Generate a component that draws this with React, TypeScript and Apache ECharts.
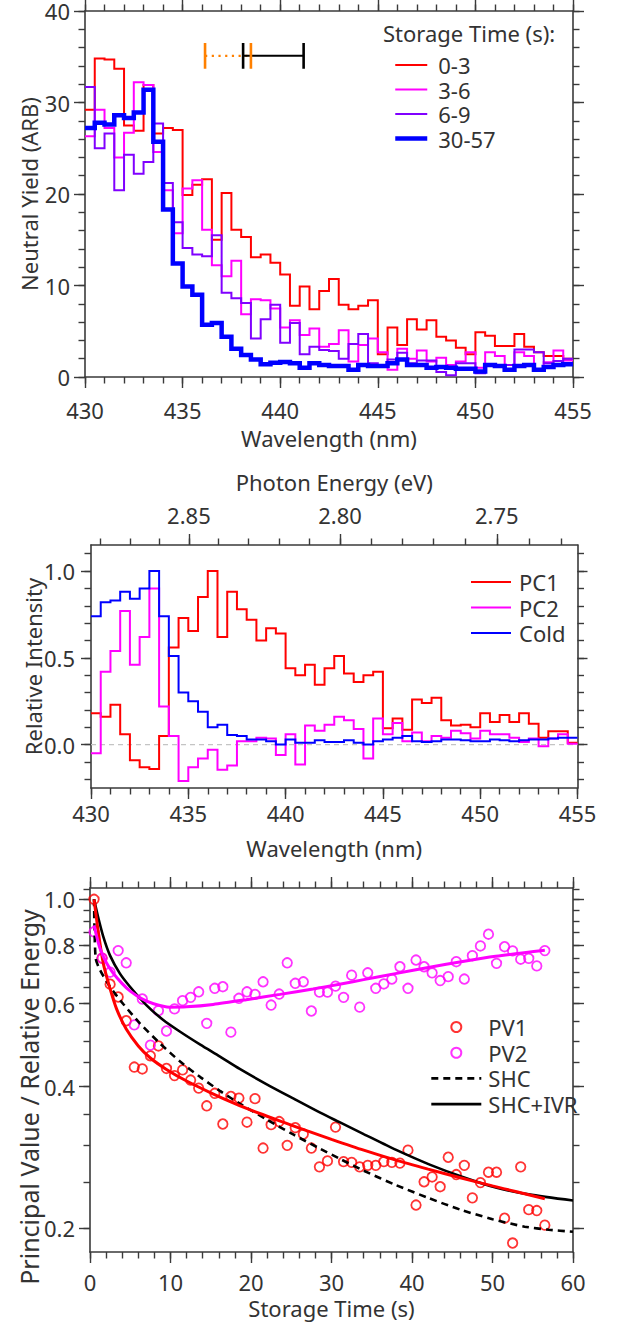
import React, { useEffect, useRef } from 'react';
import * as echarts from 'echarts';

const W = 618;
const H = 1327;
const FONT = 'Noto Sans';
const TXT = '#333333';
const AXC = '#3a3a3a';
const RED = '#ff0000';
const MAG = '#ff00ff';
const PUR = '#8000ff';
const BLUE = '#0000ff';
const ORANGE = '#ff8000';
const HC = 1239.84;

// ---------- Panel A: neutral yield histograms (0.5 nm bins from 430 nm) ----------
const binStart = 430;
const binWidth = 0.5;
const yield0to3 = [29.2, 34.8, 34.7, 33.7, 27.5, 26.9, 31.9, 26.6, 27.2, 27.0,
  19.9, 21.0, 21.6, 15.0, 20.1, 16.1, 15.3, 13.1, 13.4, 12.5,
  11.2, 7.8, 9.9, 7.4, 9.4, 10.7, 7.9, 7.4, 7.8, 8.4,
  2.5, 5.4, 3.5, 6.3, 5.2, 6.2, 4.4, 4.0, 3.2, 2.5,
  4.9, 4.5, 3.4, 3.4, 4.7, 3.3, 2.7, 2.3, 2.3, 2.0];
const yield3to6 = [26.3, 29.2, 27.2, 24.0, 26.7, 32.2, 31.9, 24.6, 20.4, 15.7,
  20.6, 21.5, 16.1, 12.2, 11.0, 12.7, 6.85, 8.5, 8.4, 7.5,
  5.4, 6.2, 4.6, 5.3, 3.3, 3.6, 5.1, 1.7, 3.5, 4.2,
  2.7, 0.8, 3.1, 2.0, 2.9, 1.7, 2.1, 1.3, 1.7, 2.7,
  1.0, 2.7, 2.3, 1.3, 2.7, 2.3, 0.8, 1.6, 2.9, 1.8];
const yield6to9 = [31.7, 25.0, 26.6, 20.4, 24.3, 22.2, 23.5, 27.7, 21.2, 16.9,
  14.1, 13.4, 13.2, 15.5, 9.2, 8.6, 8.1, 4.2, 6.3, 7.9,
  3.75, 5.9, 2.5, 3.3, 2.95, 2.85, 2.0, 3.6, 4.7, 1.5,
  1.3, 1.9, 2.65, 1.5, 1.8, 1.8, 0.55, 0.2, 1.5, 1.5,
  0.4, 1.3, 1.3, 1.3, 3.0, 3.0, 2.7, 1.5, 1.75, 2.0];
const yield30to57 = [27.2, 27.8, 27.6, 28.6, 28.3, 28.9, 31.4, 25.7, 18.3, 12.4,
  9.9, 9.0, 5.7, 5.9, 4.4, 3.1, 2.4, 1.9, 1.4, 1.55,
  1.65, 1.5, 1.0, 1.5, 1.3, 1.2, 1.2, 0.8, 1.3, 1.2,
  1.2, 1.5, 1.9, 1.3, 1.3, 1.0, 1.1, 1.0, 0.9, 0.9,
  0.6, 1.3, 1.2, 0.8, 1.2, 1.3, 0.8, 1.1, 1.3, 1.4];
const errBarY = 35.1;
const errBarHalf = 1.4;
const errOrange = [436.15, 438.5];
const errBlack = [438.1, 441.2];

// ---------- Panel B: principal components ----------
const pc1 = [0.18, 0.16, 0.23, 0.06, -0.09, -0.13, -0.14, 0.05, 0.56, 0.73,
  0.655, 0.85, 1.0, 0.62, 0.88, 0.78, 0.72, 0.60, 0.67, 0.64,
  0.44, 0.40, 0.46, 0.345, 0.44, 0.51, 0.41, 0.36, 0.40, 0.42,
  0.094, 0.15, 0.086, 0.26, 0.24, 0.27, 0.14, 0.11, 0.115, 0.10,
  0.18, 0.13, 0.17, 0.13, 0.18, 0.12, 0.04, 0.077, 0.077, 0.01];
const pc2 = [-0.05, 0.42, 0.54, 0.77, 0.46, 0.62, 0.9, 0.22, 0.05, -0.21,
  -0.13, -0.08, -0.03, -0.145, -0.12, 0.02, 0.02, 0.04, 0.035, -0.06,
  0.06, -0.115, 0.11, 0.08, 0.115, 0.16, 0.14, 0.09, -0.08, 0.15,
  0.06, 0.125, 0.02, 0.07, 0.02, 0.05, 0.04, 0.08, 0.065, 0.035,
  0.08, 0.06, 0.06, 0.04, 0.015, 0.035, -0.01, 0.035, 0.06, 0.005];
const cold = [0.74, 0.82, 0.83, 0.88, 0.84, 0.90, 1.0, 0.74, 0.51, 0.30,
  0.25, 0.19, 0.10, 0.115, 0.056, 0.05, 0.03, 0.03, 0.02, 0.0,
  0.03, 0.01, 0.01, 0.025, 0.015, 0.015, 0.025, 0.01, 0.0, 0.02,
  0.03, 0.04, 0.05, 0.02, 0.015, 0.02, 0.03, 0.03, 0.025, 0.02,
  0.02, 0.03, 0.025, 0.02, 0.025, 0.03, 0.03, 0.035, 0.04, 0.04];
const energyMajor = [2.85, 2.80, 2.75];
const energyMinor = [2.88, 2.87, 2.86, 2.85, 2.84, 2.83, 2.82, 2.81, 2.80, 2.79, 2.78, 2.77, 2.76, 2.75, 2.74, 2.73];

// ---------- Panel C: decay vs storage time ----------
const storageTime = [0.5, 1.5, 2.5, 3.5, 4.5, 5.5, 6.5, 7.5, 8.5, 9.5,
  10.5, 11.5, 12.5, 13.5, 14.5, 15.5, 16.5, 17.5, 18.5, 19.5,
  20.5, 21.5, 22.5, 23.5, 24.5, 25.5, 26.5, 27.5, 28.5, 29.5,
  30.5, 31.5, 32.5, 33.5, 34.5, 35.5, 36.5, 37.5, 38.5, 39.5,
  40.5, 41.5, 42.5, 43.5, 44.5, 45.5, 46.5, 47.5, 48.5, 49.5,
  50.5, 51.5, 52.5, 53.5, 54.5, 55.5, 56.5];
const pv1 = [1.0, 0.75, 0.66, 0.62, 0.552, 0.44, 0.436, 0.465, 0.488, 0.437,
  0.422, 0.434, 0.413, 0.397, 0.364, 0.387, 0.333, 0.381, 0.378, 0.336,
  0.377, 0.296, 0.332, 0.337, 0.30, 0.327, 0.317, 0.296, 0.27, 0.278,
  0.328, 0.277, 0.276, 0.27, 0.272, 0.272, 0.277, 0.276, 0.275, 0.293,
  0.224, 0.251, 0.257, 0.245, 0.283, 0.26, 0.272, 0.232, 0.25, 0.263,
  0.263, 0.21, 0.186, 0.27, 0.219, 0.218, 0.203];
const pv2 = [0.853, 0.75, 0.70, 0.778, 0.733, 0.541, 0.614, 0.49, 0.58, 0.525,
  0.585, 0.609, 0.619, 0.636, 0.545, 0.647, 0.652, 0.522, 0.616, 0.636,
  0.628, 0.668, 0.596, 0.629, 0.733, 0.663, 0.668, 0.579, 0.635, 0.635,
  0.654, 0.619, 0.69, 0.59, 0.698, 0.647, 0.661, 0.677, 0.719, 0.647,
  0.743, 0.719, 0.698, 0.672, 0.685, 0.737, 0.677, 0.759, 0.796, 0.843,
  0.731, 0.793, 0.777, 0.746, 0.749, 0.722, 0.778];
const pv1FitT = [0.5, 1.0, 1.65, 2.5, 3.3, 4.5, 6, 7.5, 9.5, 12, 15, 18, 21, 24, 27, 30, 34, 38, 42, 46, 50, 53, 56.5];
const pv1FitV = [1.0, 0.86, 0.731, 0.645, 0.585, 0.53, 0.488, 0.46, 0.435, 0.411, 0.388, 0.368, 0.351, 0.336, 0.322, 0.309, 0.293, 0.279, 0.267, 0.256, 0.246, 0.239, 0.231];
const pv2FitT = [0.5, 1.2, 2.0, 2.9, 4.0, 5.0, 6.4, 7.9, 9.9, 12, 15.3, 19.4, 23.6, 27.7, 31, 34, 38.1, 42.2, 46.3, 50.4, 56.5];
const pv2FitV = [0.88, 0.79, 0.735, 0.696, 0.662, 0.638, 0.615, 0.6, 0.59, 0.591, 0.598, 0.612, 0.628, 0.645, 0.66, 0.675, 0.696, 0.717, 0.738, 0.757, 0.779];
const shcT = [0.5, 0.7, 1.24, 2.48, 4.1, 6.2, 8.7, 11.2, 13.7, 16.2, 18.6, 22, 25.3, 28.6, 31, 34, 38, 42, 46, 50, 54, 57, 60];
const shcV = [1.0, 0.75, 0.708, 0.652, 0.6, 0.545, 0.494, 0.452, 0.419, 0.391, 0.368, 0.34, 0.316, 0.295, 0.281, 0.265, 0.247, 0.232, 0.219, 0.209, 0.2015, 0.1985, 0.1965];
const ivrT = [0.5, 1.0, 1.65, 2.48, 3.7, 4.97, 7, 9.1, 11.2, 13.7, 16.15, 18.6, 21.9, 25.3, 28.6, 31, 34, 38.1, 42.2, 46.3, 50.4, 54.5, 60];
const ivrV = [1.0, 0.918, 0.833, 0.76, 0.696, 0.652, 0.596, 0.554, 0.523, 0.491, 0.463, 0.436, 0.405, 0.377, 0.352, 0.336, 0.317, 0.293, 0.273, 0.257, 0.244, 0.236, 0.229];
const logYMin = 0.178;
const logYMax = 1.057;
const logYLabels = [0.2, 0.4, 0.6, 0.8, 1.0];

function seq(a: number, b: number, step: number): number[] {
  const out: number[] = [];
  const n = Math.round((b - a) / step);
  for (let i = 0; i <= n; i++) out.push(+(a + i * step).toFixed(6));
  return out;
}

function steps(vals: number[], start: number, w: number): number[][] {
  const pts: number[][] = [];
  vals.forEach((v, i) => {
    pts.push([start + i * w, v], [start + (i + 1) * w, v]);
  });
  return pts;
}

const font = { color: TXT, fontSize: 22, fontFamily: FONT, lineHeight: 22 };

type Lab = { fmt: (v: number) => string; margin: number } | null;
type Nm = { text: string; gap: number } | null;

function axis(grid: number, pos: string, min: number, max: number, ticks: number[], len: number,
  line: boolean, label: Lab, name: Nm) {
  const a: any = {
    type: 'value', gridIndex: grid, position: pos, min, max,
    axisLine: { show: line, onZero: false, lineStyle: { color: AXC, width: 1.6 } },
    axisTick: { show: true, inside: false, length: len, customValues: ticks, lineStyle: { color: AXC, width: 1.4 } },
    axisLabel: label ? { show: true, customValues: ticks, formatter: label.fmt, margin: label.margin, ...font } : { show: false },
    splitLine: { show: false },
    splitArea: { show: false },
    axisPointer: { show: false },
    nameMoveOverlap: false,
  };
  if (name) {
    a.name = name.text;
    a.nameLocation = 'middle';
    a.nameGap = name.gap;
    a.nameTextStyle = { ...font };
  }
  return a;
}

function buildOption() {
  const xAxis: any[] = [];
  const yAxis: any[] = [];
  const num = (v: number) => String(Math.round(v));

  // Panel A axes
  const ax = xAxis.length;
  xAxis.push(axis(0, 'bottom', 430, 455, seq(430, 455, 5), 11, true, { fmt: num, margin: 22 }, { text: 'Wavelength (nm)', gap: 50 }));
  xAxis.push(axis(0, 'bottom', 430, 455, seq(430, 455, 1), 6.5, false, null, null));
  xAxis.push(axis(0, 'top', 430, 455, seq(430, 455, 5), 11, true, null, null));
  xAxis.push(axis(0, 'top', 430, 455, seq(430, 455, 1), 6.5, false, null, null));
  const ay = yAxis.length;
  yAxis.push(axis(0, 'left', 0, 40, seq(0, 40, 10), 11, true, { fmt: num, margin: 15 }, { text: 'Neutral Yield (ARB)', gap: 45 }));
  yAxis.push(axis(0, 'left', 0, 40, seq(0, 40, 2), 6.5, false, null, null));
  yAxis.push(axis(0, 'right', 0, 40, seq(0, 40, 10), 11, true, null, null));
  yAxis.push(axis(0, 'right', 0, 40, seq(0, 40, 2), 6.5, false, null, null));

  // Panel B axes
  const bx = xAxis.length;
  xAxis.push(axis(1, 'bottom', 430, 455, seq(430, 455, 5), 11, true, { fmt: num, margin: 14 }, { text: 'Wavelength (nm)', gap: 49 }));
  xAxis.push(axis(1, 'bottom', 430, 455, seq(430, 455, 1), 6.5, false, null, null));
  xAxis.push(axis(1, 'top', 430, 455, energyMajor.map((e) => HC / e), 11, true,
    { fmt: (v: number) => (HC / v).toFixed(2), margin: 19 }, { text: 'Photon Energy (eV)', gap: 52 }));
  xAxis.push(axis(1, 'top', 430, 455, energyMinor.map((e) => HC / e), 6.5, false, null, null));
  const by = yAxis.length;
  yAxis.push(axis(1, 'left', -0.25, 1.15, [0, 0.5, 1.0], 10, true, { fmt: (v: number) => v.toFixed(1), margin: 16 }, { text: 'Relative Intensity', gap: 47 }));
  yAxis.push(axis(1, 'left', -0.25, 1.15, seq(-0.2, 1.1, 0.1), 6.5, false, null, null));
  yAxis.push(axis(1, 'right', -0.25, 1.15, [0, 0.5, 1.0], 10, true, null, null));
  yAxis.push(axis(1, 'right', -0.25, 1.15, seq(-0.2, 1.1, 0.1), 6.5, false, null, null));

  // Panel C axes (log y drawn on ln-transformed values)
  const lnMin = Math.log(logYMin);
  const lnMax = Math.log(logYMax);
  const lnMajor = logYLabels.map((v) => Math.log(v));
  const lnMinor = seq(0.2, 1.05, 0.05).map((v) => Math.log(v));
  const cx = xAxis.length;
  xAxis.push(axis(2, 'bottom', 0, 60, seq(0, 60, 10), 11, true, { fmt: num, margin: 19 }, { text: 'Storage Time (s)', gap: 45 }));
  xAxis.push(axis(2, 'bottom', 0, 60, seq(0, 60, 2), 6.5, false, null, null));
  xAxis.push(axis(2, 'top', 0, 60, seq(0, 60, 10), 11, true, null, null));
  xAxis.push(axis(2, 'top', 0, 60, seq(0, 60, 2), 6.5, false, null, null));
  const cy = yAxis.length;
  yAxis.push(axis(2, 'left', lnMin, lnMax, lnMajor, 11, true, { fmt: (v: number) => Math.exp(v).toFixed(1), margin: 15 }, null));
  yAxis.push(axis(2, 'left', lnMin, lnMax, lnMinor, 6.5, false, null, null));
  yAxis.push(axis(2, 'right', lnMin, lnMax, lnMajor, 11, true, null, null));
  yAxis.push(axis(2, 'right', lnMin, lnMax, lnMinor, 6.5, false, null, null));

  const base = { type: 'line', symbol: 'none', showSymbol: false, clip: true, emphasis: { disabled: true }, silent: true };
  const stepS = (name: string, vals: number[], color: string, width: number, xi: number, yi: number) => ({
    ...base, name, xAxisIndex: xi, yAxisIndex: yi, color,
    data: steps(vals, binStart, binWidth), lineStyle: { color, width, join: 'miter' },
  });
  const seg = (name: string, pts: number[][], color: string, width: number, type: any) => ({
    ...base, name, xAxisIndex: ax, yAxisIndex: ay, color, data: pts, lineStyle: { color, width, type, cap: 'butt' },
  });
  const curve = (name: string, t: number[], v: number[], color: string, width: number, type: any) => ({
    ...base, name, xAxisIndex: cx, yAxisIndex: cy, color, smooth: 0.25,
    data: t.map((tt, i) => [tt, Math.log(v[i])]), lineStyle: { color, width, type },
  });
  const dots = (name: string, vals: number[], color: string) => ({
    type: 'scatter', name, xAxisIndex: cx, yAxisIndex: cy, symbol: 'circle', symbolSize: 9.5,
    silent: true, emphasis: { disabled: true }, color,
    itemStyle: { color: 'rgba(255,255,255,0)', borderColor: color, borderWidth: 1.8 },
    data: storageTime.map((t, i) => [t, Math.log(vals[i])]),
  });

  const series: any[] = [
    stepS('0-3', yield0to3, RED, 2, ax, ay),
    stepS('3-6', yield3to6, MAG, 2, ax, ay),
    stepS('6-9', yield6to9, PUR, 2, ax, ay),
    stepS('30-57', yield30to57, BLUE, 4.5, ax, ay),
    seg('errOrangeLine', [[errOrange[0], errBarY], [errOrange[1], errBarY]], ORANGE, 2.2, [2.2, 4.5]),
    seg('errBlackLine', [[errBlack[0], errBarY], [errBlack[1], errBarY]], '#000000', 2, 'solid'),
    ...errBlack.map((x, i) => seg('errBlackCap' + i, [[x, errBarY - errBarHalf], [x, errBarY + errBarHalf]], '#000000', 2.6, 'solid')),
    ...errOrange.map((x, i) => seg('errOrangeCap' + i, [[x, errBarY - errBarHalf], [x, errBarY + errBarHalf]], ORANGE, 2.6, 'solid')),

    { ...base, name: 'zero', xAxisIndex: bx, yAxisIndex: by, data: [[430, 0], [455, 0]], lineStyle: { color: '#c4c4c4', width: 1.2, type: [5, 4] } },
    stepS('PC1', pc1, RED, 2, bx, by),
    stepS('PC2', pc2, MAG, 2, bx, by),
    stepS('Cold', cold, BLUE, 2, bx, by),

    curve('SHC', shcT, shcV, '#000000', 2.6, [7, 5]),
    curve('SHC+IVR', ivrT, ivrV, '#000000', 2.6, 'solid'),
    curve('PV1 fit', pv1FitT, pv1FitV, RED, 3, 'solid'),
    curve('PV2 fit', pv2FitT, pv2FitV, MAG, 3, 'solid'),
    dots('PV1', pv1, RED),
    dots('PV2', pv2, MAG),
  ];

  const noDot = { opacity: 0 };
  const lineItem = (name: string, width: number) => ({ name, itemStyle: noDot, lineStyle: { width } });
  const legendText = { ...font };
  return {
    animation: false,
    backgroundColor: '#ffffff',
    textStyle: { fontFamily: FONT },
    grid: [
      { left: 85, top: 11, width: 488, height: 366, outerBoundsMode: 'none', containLabel: false },
      { left: 91, top: 545, width: 486.5, height: 243, outerBoundsMode: 'none', containLabel: false },
      { left: 90, top: 888, width: 483, height: 364, outerBoundsMode: 'none', containLabel: false },
    ],
    xAxis,
    yAxis,
    legend: [
      { left: 388, top: 49, orient: 'vertical', itemWidth: 32, itemHeight: 14, itemGap: 2.5, selectedMode: false,
        data: [lineItem('0-3', 2), lineItem('3-6', 2), lineItem('6-9', 2), lineItem('30-57', 4.5)],
        textStyle: { ...legendText, padding: [0, 0, 0, 6] } },
      { left: 465, top: 566, orient: 'vertical', itemWidth: 40, itemHeight: 14, itemGap: 3.5, selectedMode: false,
        data: [lineItem('PC1', 2), lineItem('PC2', 2), lineItem('Cold', 2)],
        textStyle: { ...legendText, padding: [0, 0, 0, 3] } },
      { left: 425, top: 1011, orient: 'vertical', itemWidth: 50, itemHeight: 10, itemGap: 3.7, selectedMode: false,
        data: ['PV1', 'PV2', lineItem('SHC', 2.6), lineItem('SHC+IVR', 2.6)],
        textStyle: { ...legendText, padding: [0, 0, 0, 2] } },
    ],
    graphic: [
      { type: 'text', left: 383, top: 22, silent: true,
        style: { text: 'Storage Time (s):', fontSize: 22, fontFamily: FONT, fill: TXT } },
      { type: 'text', x: 29, y: 1097, rotation: Math.PI / 2, silent: true,
        style: { text: 'Principal Value / Relative Energy', fontSize: 25, fontFamily: FONT, fill: TXT,
          align: 'center', verticalAlign: 'middle' } },
    ],
    series,
  };
}

export default function App() {
  const ref = useRef<HTMLDivElement>(null);
  useEffect(() => {
    if (!ref.current) return;
    const chart = echarts.init(ref.current, null, { renderer: 'svg', width: W, height: H });
    chart.setOption(buildOption() as any);
    return () => chart.dispose();
  }, []);
  return (
    <div
      ref={ref}
      style={{ position: 'absolute', left: 0, top: 0, width: W, height: H, background: '#ffffff' }}
    />
  );
}
